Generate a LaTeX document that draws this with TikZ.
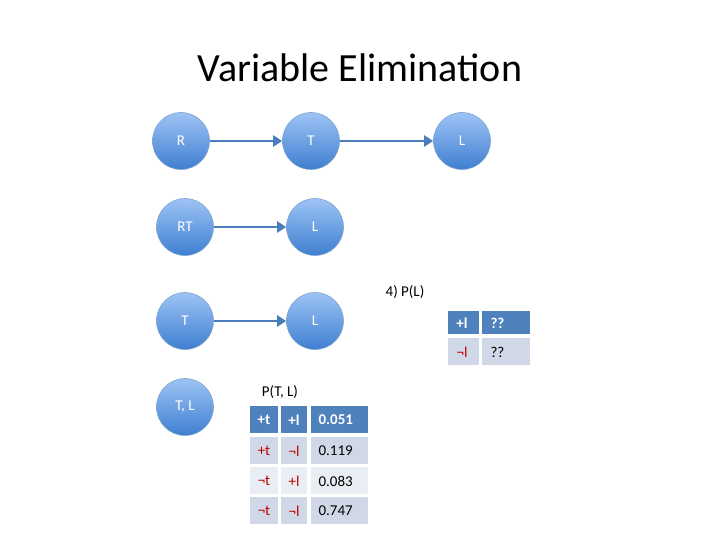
\documentclass[tikz,border=0pt]{standalone}
\usepackage{fontspec}
\setmainfont{Carlito}
\usetikzlibrary{arrows.meta}
\definecolor{nodeA}{HTML}{9DC3F5}
\definecolor{nodeB}{HTML}{3F7FD0}
\definecolor{edge}{HTML}{4A7EBB}
\definecolor{hdr}{HTML}{4F81BD}
\definecolor{rowA}{HTML}{D0D8E8}
\definecolor{rowB}{HTML}{E9EDF4}
\definecolor{neg}{HTML}{C00000}
\begin{document}
\begin{tikzpicture}[x=1pt,y=-1pt,
  var/.style={circle,minimum size=57pt,inner sep=0pt,draw=edge!70,line width=0.6pt,top color=nodeA,bottom color=nodeB,text=white,font=\fontsize{15}{15}\selectfont},
  arr/.style={draw=edge,line width=2.5pt,-{Triangle[length=9pt,width=11pt]}},
  cell/.style={anchor=north west,inner sep=0pt,font=\fontsize{16}{16}\selectfont},
  lbl/.style={font=\fontsize{15}{15}\selectfont}]
\useasboundingbox (0,0) rectangle (720,540);
\node[font=\fontsize{40}{40}\selectfont] (title) at (360,68) {Variable Elimination};
\node[var] (r1) at (181,141) {R};
\node[var] (t1) at (311,141) {T};
\node[var] (l1) at (462,141) {L};
\draw[arr] (r1) -- (t1);
\draw[arr] (t1) -- (l1);
\node[var] (rt2) at (185,227) {RT};
\node[var] (l2) at (315,227) {L};
\draw[arr] (rt2) -- (l2);
\node[var] (t3) at (185,321) {T};
\node[var] (l3) at (315,321) {L};
\draw[arr] (t3) -- (l3);
\node[var] (tl4) at (185,407) {T, L};
\node[lbl] (q) at (405,292) {4) P(L)};
% P(L) table
\fill[hdr] (448,311) rectangle (479,334);
\fill[hdr] (482,311) rectangle (530,334);
\fill[rowA] (448,338) rectangle (479,365);
\fill[rowA] (482,338) rectangle (530,365);
\node[lbl,text=white] (p1) at (462,323) {\textbf{+l}};
\node[lbl,text=white,anchor=west] (p2) at (487,323) {\textbf{??}};
\node[lbl,text=neg] (p3) at (462,352) {¬l};
\node[lbl,anchor=west] (p4) at (487,352) {??};
% P(T,L) table
\node[lbl] (jt) at (280,392) {P(T, L)};
\foreach \y/\c in {406/hdr,437/rowA,467/rowB,497/rowA}{
  \fill[\c] (250,\y) rectangle (278,\y+27);
  \fill[\c] (281,\y) rectangle (307,\y+27);
  \fill[\c] (311,\y) rectangle (368,\y+27);
}
\node[lbl,text=white] (a1) at (264,420) {\textbf{+t}};
\node[lbl,text=white] (a2) at (294,420) {\textbf{+l}};
\node[lbl,text=white,anchor=west] (a3) at (315,420) {\textbf{0.051}};
\node[lbl,text=neg] (b1) at (264,451) {+t};
\node[lbl,text=neg] (b2) at (294,451) {¬l};
\node[lbl,anchor=west] (b3) at (315,451) {0.119};
\node[lbl,text=neg] (c1) at (264,481) {¬t};
\node[lbl,text=neg] (c2) at (294,481) {+l};
\node[lbl,anchor=west] (c3) at (315,481) {0.083};
\node[lbl,text=neg] (d1) at (264,511) {¬t};
\node[lbl,text=neg] (d2) at (294,511) {¬l};
\node[lbl,anchor=west] (d3) at (315,511) {0.747};
\end{tikzpicture}
\end{document}
